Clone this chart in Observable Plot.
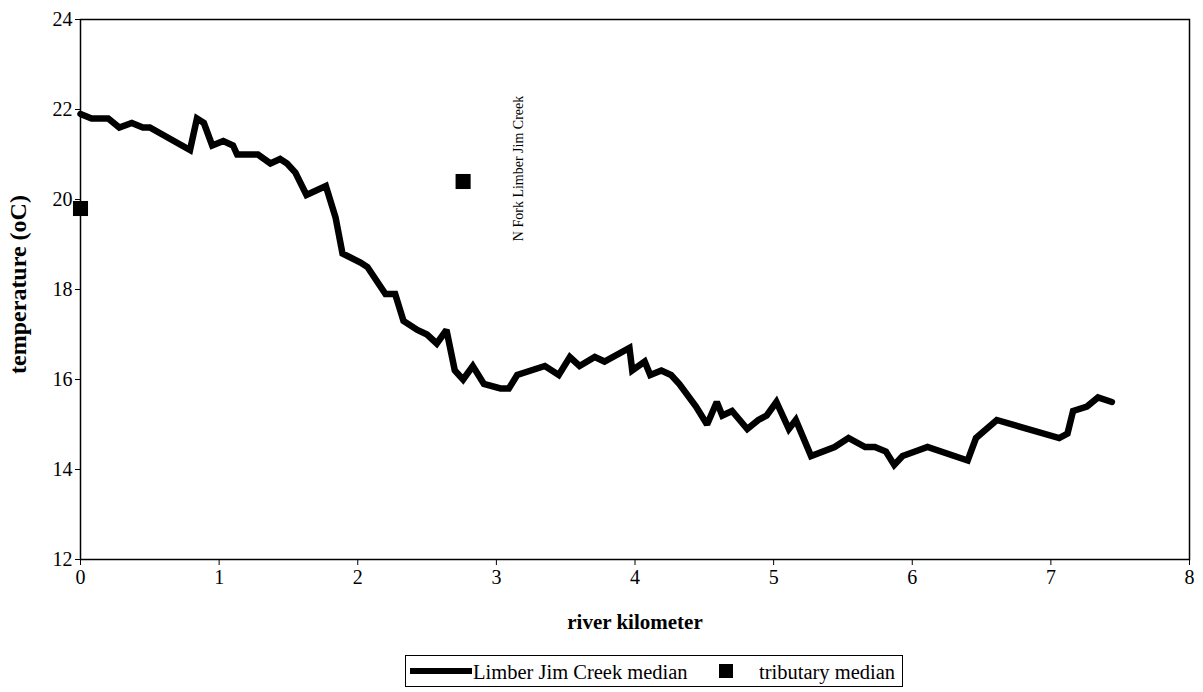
<!DOCTYPE html>
<html>
<head>
<meta charset="utf-8">
<script src="https://cdn.jsdelivr.net/npm/d3@7"></script>
<script src="https://cdn.jsdelivr.net/npm/@observablehq/plot@0.6"></script>
<style>
  html, body { margin: 0; padding: 0; background: #fff; }
  body { width: 1203px; height: 692px; overflow: hidden; font-family: "Liberation Serif", "Times New Roman", serif; }
  #legend { position: absolute; left: 405px; top: 655px; width: 496px; height: 30px; border: 1.5px solid #000; box-sizing: content-box; font-size: 20.5px; color: #000; line-height: 1; }
  #legend .ln { position: absolute; left: 4px; top: 12px; width: 62px; height: 6px; background: #000; }
  #legend .t1 { position: absolute; left: 67px; top: 6px; }
  #legend .sq { position: absolute; left: 313px; top: 8px; width: 14px; height: 14px; background: #000; }
  #legend .t2 { position: absolute; left: 353px; top: 6px; }
</style>
</head>
<body>
<div id="chart"></div>
<div id="legend"><div class="ln"></div><span class="t1">Limber Jim Creek median</span><div class="sq"></div><span class="t2">tributary median</span></div>
<script>
const km = [0, 0.08, 0.20, 0.28, 0.37, 0.45, 0.50, 0.79, 0.84, 0.89, 0.95, 1.03, 1.10, 1.13, 1.28, 1.37, 1.44, 1.49, 1.55, 1.63, 1.77, 1.84, 1.89, 2.02, 2.07, 2.20, 2.27, 2.33, 2.43, 2.50, 2.57, 2.64, 2.70, 2.76, 2.83, 2.91, 3.03, 3.09, 3.15, 3.35, 3.45, 3.53, 3.60, 3.71, 3.78, 3.96, 3.98, 4.07, 4.11, 4.19, 4.26, 4.32, 4.44, 4.52, 4.59, 4.63, 4.70, 4.81, 4.89, 4.95, 5.02, 5.11, 5.16, 5.27, 5.44, 5.54, 5.66, 5.73, 5.81, 5.87, 5.93, 6.02, 6.11, 6.40, 6.46, 6.61, 7.06, 7.12, 7.16, 7.26, 7.34, 7.44];
const temp = [21.9, 21.8, 21.8, 21.6, 21.7, 21.6, 21.6, 21.1, 21.8, 21.7, 21.2, 21.3, 21.2, 21.0, 21.0, 20.8, 20.9, 20.8, 20.6, 20.1, 20.3, 19.6, 18.8, 18.6, 18.5, 17.9, 17.9, 17.3, 17.1, 17.0, 16.8, 17.1, 16.2, 16.0, 16.3, 15.9, 15.8, 15.8, 16.1, 16.3, 16.1, 16.5, 16.3, 16.5, 16.4, 16.7, 16.2, 16.4, 16.1, 16.2, 16.1, 15.9, 15.4, 15.0, 15.5, 15.2, 15.3, 14.9, 15.1, 15.2, 15.5, 14.9, 15.1, 14.3, 14.5, 14.7, 14.5, 14.5, 14.4, 14.1, 14.3, 14.4, 14.5, 14.2, 14.7, 15.1, 14.7, 14.8, 15.3, 15.4, 15.6, 15.5];
const tribKm = [0, 2.76];
const tribTemp = [19.8, 20.4];
const annLabel = ["N Fork Limber Jim Creek"];
const annKm = [3.16];
const annTemp = [20.69];
const xTicks = [0, 1, 2, 3, 4, 5, 6, 7, 8];
const yTicks = [12, 14, 16, 18, 20, 22, 24];

const mainData = km.map((k, i) => ({km: k, temp: temp[i]}));
const tribData = tribKm.map((k, i) => ({km: k, temp: tribTemp[i]}));
const annData = annLabel.map((t, i) => ({label: t, km: annKm[i], temp: annTemp[i]}));

const chart = Plot.plot({
  width: 1203,
  height: 648,
  marginTop: 19,
  marginLeft: 80,
  marginRight: 14,
  marginBottom: 89,
  style: {fontFamily: "'Liberation Serif', 'Times New Roman', serif", fontSize: "20px", color: "#000", background: "#fff"},
  x: {domain: [0, 8], ticks: xTicks, label: null},
  y: {domain: [12, 24], ticks: yTicks, label: null},
  marks: [
    Plot.frame({stroke: "#000", strokeWidth: 1.5}),
    Plot.axisX({ticks: xTicks, tickSize: 6, tickPadding: 4, fontSize: 20, label: null, stroke: "#000"}),
    Plot.axisY({ticks: yTicks, tickSize: 5, tickPadding: 3, fontSize: 20, label: null, stroke: "#000"}),
    Plot.line(mainData, {x: "km", y: "temp", stroke: "#000", strokeWidth: 6.5, strokeLinejoin: "miter", strokeMiterlimit: 2}),
    Plot.dot(tribData, {x: "km", y: "temp", symbol: "square", r: 8.5, fill: "#000", stroke: "none"}),
    Plot.text(annData, {x: "km", y: "temp", text: "label", rotate: -90, fontSize: 14, fill: "#000"}),
    Plot.text(["river kilometer"], {frameAnchor: "bottom", textAnchor: "middle", dy: 69, fontWeight: "bold", fontSize: 21, fill: "#000"}),
    Plot.text(["temperature (oC)"], {frameAnchor: "left", textAnchor: "middle", dx: -62, dy: -5, rotate: -90, fontWeight: "bold", fontSize: 24, fill: "#000"})
  ]
});
document.getElementById("chart").appendChild(chart);
</script>
</body>
</html>
